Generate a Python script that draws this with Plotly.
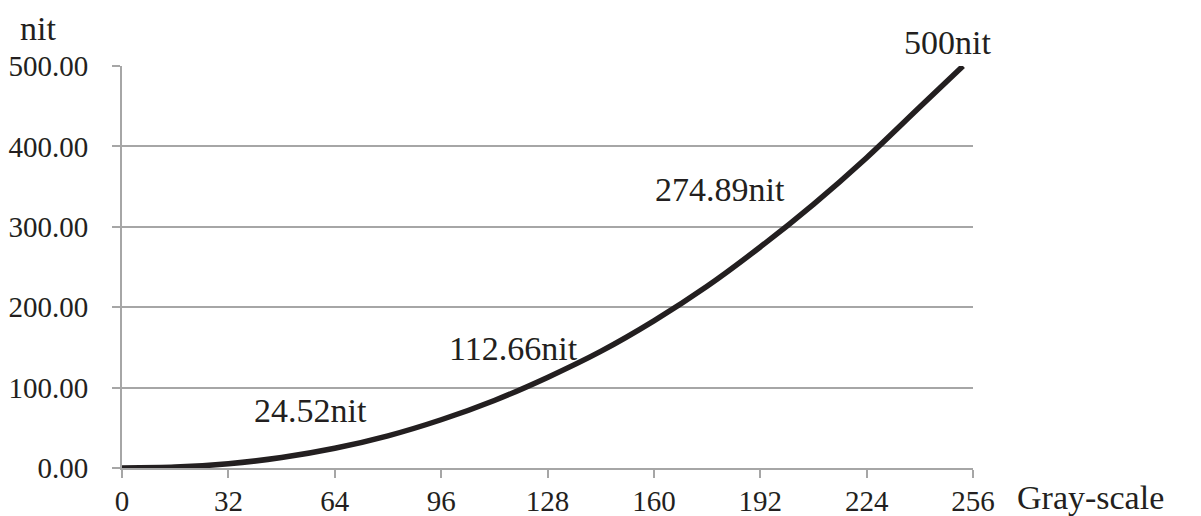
import plotly.graph_objects as go

gray_levels = [0, 16, 32, 48, 64, 80, 96, 112, 128, 144, 160, 176, 192, 208, 224, 240, 253]
luminance = [0.0, 1.1, 5.3, 13.0, 24.52, 40.0, 60.0, 84.0, 112.66, 145.0, 183.0, 226.0, 274.89, 328.0, 386.0, 449.0, 500.0]

label_x = [64, 128, 192, 253]
label_y = [24.52, 112.66, 274.89, 500.0]
label_text = ["24.52nit", "112.66nit", "274.89nit", "500nit"]

x_ticks = [0, 32, 64, 96, 128, 160, 192, 224, 256]
y_ticks = [0, 100, 200, 300, 400, 500]

FONT = "'Times New Roman', 'Liberation Serif', 'DejaVu Serif', serif"
INK = "#231f20"
GRID = "#a6a6a6"

fig = go.Figure()
fig.add_trace(go.Scatter(
    x=gray_levels, y=luminance, mode="lines",
    line=dict(color=INK, width=5.5, shape="spline", smoothing=0.8),
    hoverinfo="skip", showlegend=False,
))

# pixel shifts of each label from its data point
shifts = [(-24, 38), (-34, 29), (-40, 57), (-16, 24)]
for xv, yv, t, (sx, sy) in zip(label_x, label_y, label_text, shifts):
    fig.add_annotation(x=xv, y=yv, text=t, showarrow=False, xshift=sx, yshift=sy,
                       xanchor="center", yanchor="middle",
                       font=dict(family=FONT, size=34, color=INK))

fig.add_annotation(xref="paper", yref="paper", x=0, y=1.0, xshift=-84, yshift=38,
                   xanchor="center", yanchor="middle",
                   text="nit", showarrow=False,
                   font=dict(family=FONT, size=34, color=INK))
fig.add_annotation(xref="paper", yref="paper", x=1.0, y=0, xshift=117, yshift=-29,
                   xanchor="center", yanchor="middle",
                   text="Gray-scale", showarrow=False,
                   font=dict(family=FONT, size=34, color=INK))

# page body adds an 8px margin, so the figure is sized/offset to compensate
fig.update_layout(
    width=1193, height=508,
    margin=dict(l=114, r=228, t=58, b=48),
    paper_bgcolor="white", plot_bgcolor="white",
    font=dict(family=FONT, size=29, color=INK),
)
fig.update_xaxes(
    range=[0, 256], tickvals=x_ticks, ticktext=[str(v) for v in x_ticks],
    showline=True, linecolor=GRID, linewidth=2,
    ticks="outside", ticklen=8, tickcolor=GRID, tickwidth=2,
    showgrid=False, zeroline=False, automargin=False, ticklabelstandoff=-2,
)
fig.update_yaxes(
    range=[0, 500], tickvals=y_ticks, ticktext=[f"{v:.2f}" for v in y_ticks],
    showline=True, linecolor=GRID, linewidth=2,
    ticks="outside", ticklen=8, tickcolor=GRID, tickwidth=2,
    showgrid=True, gridcolor=GRID, gridwidth=2,
    zeroline=False, ticklabelstandoff=18, automargin=False,
)

fig.write_html("out.html")
